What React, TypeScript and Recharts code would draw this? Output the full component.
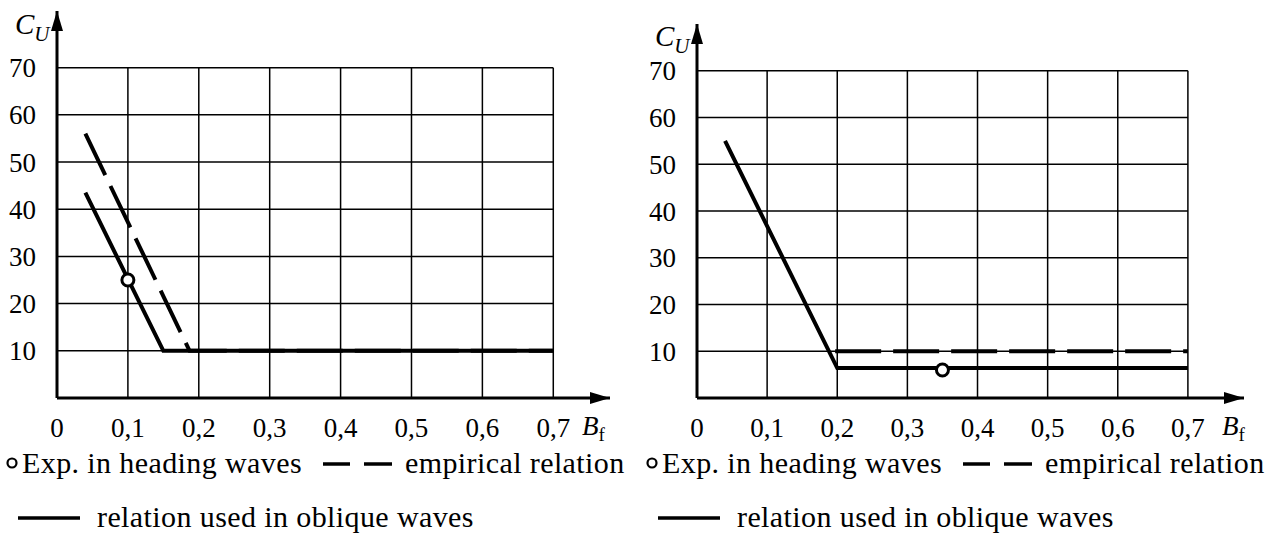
import React from 'react';
import {
  ComposedChart, Line, Scatter, XAxis, YAxis,
  ReferenceLine, ReferenceDot,
} from 'recharts';

// B_f tick positions and C_U tick positions
const xTicks = [0, 0.1, 0.2, 0.3, 0.4, 0.5, 0.6, 0.7];
const yTicks = [10, 20, 30, 40, 50, 60, 70];

// left panel
const leftOblique = [{ x: 0.04, y: 43.5 }, { x: 0.15, y: 10 }, { x: 0.7, y: 10 }];
const leftEmpirical = [{ x: 0.04, y: 56 }, { x: 0.187, y: 10 }, { x: 0.7, y: 10 }];
const leftExp = [{ x: 0.1, y: 25 }];

// right panel
const rightOblique = [{ x: 0.04, y: 55 }, { x: 0.2, y: 6.4 }, { x: 0.7, y: 6.4 }];
const rightEmpirical = [{ x: 0.197, y: 10 }, { x: 0.7, y: 10 }];
const rightExp = [{ x: 0.35, y: 6 }];

const FONT = 'Liberation Serif, DejaVu Serif';
const INK = '#000';

const fmt = (v: number) => (v === 0 ? '0' : String(v).replace('.', ','));

const ArrowRight = (p: any) => (
  <path d={`M${p.cx},${p.cy} L${p.cx - 20},${p.cy - 6} L${p.cx - 20},${p.cy + 6} Z`} fill={INK} />
);
const ArrowUp = (p: any) => (
  <path d={`M${p.cx},${p.cy} L${p.cx - 6},${p.cy + 20} L${p.cx + 6},${p.cy + 20} Z`} fill={INK} />
);
const OpenDot = (p: any) => (
  <circle cx={p.cx} cy={p.cy} r={6} fill="#fff" stroke={INK} strokeWidth={3} />
);

type PanelProps = {
  oblique: { x: number; y: number }[];
  empirical: { x: number; y: number }[];
  exp: { x: number; y: number }[];
  yMax: number;
  top: number;
  right: number;
};

function Panel({ oblique, empirical, exp, yMax, top, right }: PanelProps) {
  return (
    <ComposedChart width={640} height={450} margin={{ top, right, bottom: 12, left: 0 }}>
      <XAxis
        type="number" dataKey="x" domain={[0, 0.78]} ticks={xTicks} allowDataOverflow
        tickFormatter={fmt} tickLine={false} tickSize={0} tickMargin={20} height={40}
        axisLine={{ stroke: INK, strokeWidth: 3 }}
        tick={{ fill: INK, fontSize: 27, fontFamily: FONT }}
      />
      <YAxis
        type="number" dataKey="y" domain={[0, yMax]} ticks={yTicks} allowDataOverflow
        tickLine={false} tickSize={0} tickMargin={21} width={57}
        axisLine={{ stroke: INK, strokeWidth: 3 }}
        tick={{ fill: INK, fontSize: 27, fontFamily: FONT }}
      />
      {xTicks.slice(1).map((t) => (
        <ReferenceLine key={'v' + t} segment={[{ x: t, y: 0 }, { x: t, y: 70 }]}
          stroke={INK} strokeWidth={1.5} />
      ))}
      {yTicks.map((t) => (
        <ReferenceLine key={'h' + t} segment={[{ x: 0, y: t }, { x: 0.7, y: t }]}
          stroke={INK} strokeWidth={1.5} />
      ))}
      <Line data={empirical} dataKey="y" stroke={INK} strokeWidth={4}
        strokeDasharray="46 12" dot={false} isAnimationActive={false} />
      <Line data={oblique} dataKey="y" stroke={INK} strokeWidth={4}
        dot={false} isAnimationActive={false} />
      <Scatter data={exp} dataKey="y" shape={OpenDot} isAnimationActive={false} />
      <ReferenceDot x={0.78} y={0} shape={ArrowRight} />
      <ReferenceDot x={0} y={yMax} shape={ArrowUp} />
    </ComposedChart>
  );
}

function AxisTitles({ cuTop }: { cuTop: number }) {
  return (
    <>
      <div style={{ position: 'absolute', left: 15, top: cuTop, fontFamily: FONT, fontSize: 29, fontStyle: 'italic', lineHeight: 1 }}>
        C<sub style={{ fontSize: 21, verticalAlign: -7 }}>U</sub>
      </div>
      <div style={{ position: 'absolute', left: 582, top: 413, fontFamily: FONT, fontSize: 27, lineHeight: 1 }}>
        <i>B</i><sub style={{ fontSize: 19, verticalAlign: -6 }}>f</sub>
      </div>
    </>
  );
}

function Key() {
  const txt = { fontFamily: FONT, fontSize: 30, fill: INK, letterSpacing: 0.4 };
  return (
    <svg width={640} height={93} style={{ position: 'absolute', left: 0, top: 440 }}>
      <circle cx={12} cy={23} r={4.5} fill="#fff" stroke={INK} strokeWidth={2.2} />
      <text x={22} y={33} style={txt}>Exp. in heading waves</text>
      <line x1={323} y1={24} x2={350} y2={24} stroke={INK} strokeWidth={3.5} />
      <line x1={364} y1={24} x2={392} y2={24} stroke={INK} strokeWidth={3.5} />
      <text x={405} y={33} style={txt}>empirical relation</text>
      <line x1={18} y1={78} x2={80} y2={78} stroke={INK} strokeWidth={3.5} />
      <text x={97} y={87} style={txt}>relation used in oblique waves</text>
    </svg>
  );
}

export default function App() {
  return (
    <div style={{ position: 'absolute', left: 0, top: 0, width: 1282, height: 533, background: '#fff' }}>
      <div style={{ position: 'absolute', left: 0, top: 0, width: 640, height: 533 }}>
        <Panel oblique={leftOblique} empirical={leftEmpirical} exp={leftExp} yMax={82} top={11} right={30} />
        <AxisTitles cuTop={10} />
        <Key />
      </div>
      <div style={{ position: 'absolute', left: 640, top: 0, width: 642, height: 533 }}>
        <Panel oblique={rightOblique} empirical={rightEmpirical} exp={rightExp} yMax={80} top={24} right={36} />
        <AxisTitles cuTop={22} />
        <Key />
      </div>
    </div>
  );
}
